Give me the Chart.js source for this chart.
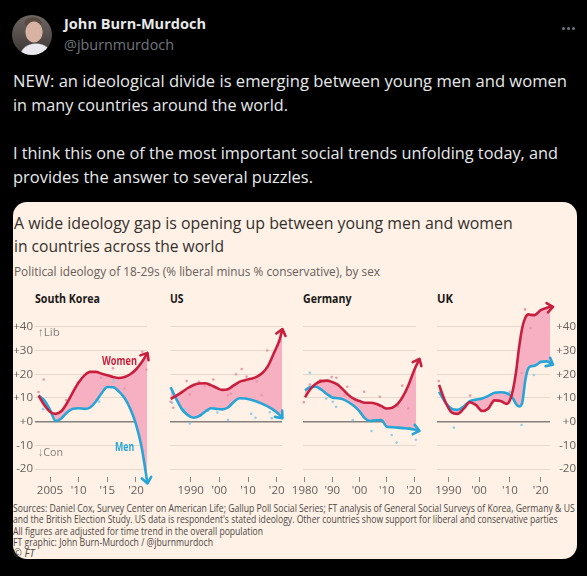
<!DOCTYPE html>
<html><head><meta charset="utf-8">
<script src="https://cdn.jsdelivr.net/npm/chart.js"></script>
<style>
html,body{margin:0;padding:0;background:#000;}
body{width:587px;height:576px;position:relative;overflow:hidden;font-family:'Open Sans',sans-serif;}
.t{position:absolute;white-space:nowrap;line-height:1;transform-origin:0 0;}
.tw{color:#e7e9ea;font-size:17px;left:12.7px;}
.ct{color:#33302e;font-size:17px;left:14px;}
.ft{color:#4d4845;font-size:10.3px;left:13.3px;}
.pt{color:#1a1817;font-size:12.2px;font-weight:700;}
canvas{position:absolute;}
#card{position:absolute;left:12.7px;top:201.7px;width:564px;height:357.6px;border-radius:14px;background:#fff1e5;}
#avatar{position:absolute;left:12px;top:15px;width:40px;height:40px;border-radius:50%;overflow:hidden;
 background:
  radial-gradient(ellipse 9px 11px at 22px 17px,#d8b3a3 0 90%,transparent 100%),
  radial-gradient(ellipse 9px 6px at 21px 8px,#5b4a42 0 90%,transparent 100%),
  radial-gradient(ellipse 16px 12px at 24px 40px,#e9e9ef 0 90%,transparent 100%),
  linear-gradient(#6e6663,#3b3533);}
.dot{position:absolute;width:3px;height:3px;border-radius:50%;background:#71767b;top:26.5px;}
</style></head>
<body>
<div id="avatar"></div>
<div class="t fit" data-w="142" style="left:64.4px;top:16px;font-size:15px;font-weight:700;color:#e7e9ea">John Burn-Murdoch</div>
<div class="t fit" data-w="110" style="left:64.4px;top:36.7px;font-size:15px;color:#71767b">@jburnmurdoch</div>
<div class="dot" style="left:562px"></div><div class="dot" style="left:567px"></div><div class="dot" style="left:572px"></div>

<div class="t tw fit" data-w="554" style="top:72.2px">NEW: an ideological divide is emerging between young men and women</div>
<div class="t tw fit" data-w="275" style="top:95.6px">in many countries around the world.</div>
<div class="t tw fit" data-w="545" style="top:144.2px">I think this one of the most important social trends unfolding today, and</div>
<div class="t tw fit" data-w="300" style="top:167.6px">provides the answer to several puzzles.</div>

<div id="card"></div>
<div class="t ct fit" data-w="498.7" style="top:213.9px">A wide ideology gap is opening up between young men and women</div>
<div class="t ct fit" data-w="210" style="top:236.6px">in countries across the world</div>
<div class="t fit" data-w="366" style="left:14px;top:264.5px;font-size:13px;color:#66605c">Political ideology of 18-29s (% liberal minus % conservative), by sex</div>

<div class="t pt fit" data-w="65" style="left:35px;top:292.9px">South Korea</div>
<div class="t pt fit" data-w="13.5" style="left:170px;top:292.9px">US</div>
<div class="t pt fit" data-w="48.4" style="left:303.3px;top:292.9px">Germany</div>
<div class="t pt fit" data-w="16" style="left:437.3px;top:292.9px">UK</div>

<canvas id="cKR" width="146" height="206" style="left:11px;top:293px"></canvas>
<canvas id="cUS" width="138" height="206" style="left:154px;top:293px"></canvas>
<canvas id="cDE" width="139" height="206" style="left:287px;top:293px"></canvas>
<canvas id="cUK" width="155" height="206" style="left:421px;top:293px"></canvas>

<div class="t fit" data-w="35" style="left:101.7px;top:354.6px;font-size:12px;font-weight:700;color:#c81f3f">Women</div>
<div class="t fit" data-w="19.3" style="left:115px;top:441.3px;font-size:12px;font-weight:700;color:#28a5d7">Men</div>
<div class="t fit" data-w="21.7" style="left:38.3px;top:326.3px;font-size:11.5px;color:#85807b">↑Lib</div>
<div class="t fit" data-w="25" style="left:38.3px;top:445.9px;font-size:11.5px;color:#85807b">↓Con</div>

<div class="t ft fit" data-w="561.7" style="top:502.9px">Sources: Daniel Cox, Survey Center on American Life; Gallup Poll Social Series; FT analysis of General Social Surveys of Korea, Germany &amp; US</div>
<div class="t ft fit" data-w="544.7" style="top:514.2px">and the British Election Study. US data is respondent's stated ideology. Other countries show support for liberal and conservative parties</div>
<div class="t ft fit" data-w="250" style="top:525.9px">All figures are adjusted for time trend in the overall population</div>
<div class="t ft fit" data-w="200" style="top:536.9px">FT graphic: John Burn-Murdoch / @jburnmurdoch</div>
<div class="t ft" style="top:547.6px;font-style:italic">© FT</div>

<script>
// ---------------- data ----------------
const yTicks = [-20, -10, 0, 10, 20, 30, 40];

// South Korea
const krYears = [2003,2004,2005,2006,2007,2008,2009,2010,2011,2012,2013,2014,2015,2016,2017,2018,2019,2020,2021,2022];
const krWomen = [11.0,7.0,4.2,3.3,4.5,8.0,12.5,16.5,19.5,21.0,21.0,20.2,19.6,18.8,18.4,18.8,20.0,22.0,25.0,29.0];
const krMen   = [11.0,9.0,5.0,0.3,1.5,4.0,5.5,5.7,5.4,6.0,8.5,12.0,14.6,14.5,12.8,10.0,5.5,-1.0,-11.0,-26.0];
const krWomenDots = [[2003,12.5],[2003.9,17.8],[2007.8,9.1],[2009.8,16.4],[2013.9,18.5],[2016,22.5],[2018,14],[2021.1,29.5],[2021.8,22]];
const krMenDots = [[2003.8,5.3],[2013.6,8.4],[2016.1,17.2]];
const krTickYears = [2005, 2010, 2015, 2020];
const krTickLabels = ['2005', "'10", "'15", "'20"];

// US
const usYears = [1983,1985,1987,1989,1991,1993,1995,1997,1999,2001,2003,2005,2007,2009,2011,2013,2015,2017,2019,2021,2022];
const usWomen = [9.6,11.0,12.5,14.2,15.5,16.1,16.2,15.4,14.3,13.4,13.7,15.3,16.8,17.5,18.1,18.9,20.5,23.5,28.8,34.5,39.0];
const usMen   = [14.5,9.5,5.2,2.8,1.7,2.4,4.2,5.7,5.4,5.2,6.0,8.3,9.9,9.8,9.3,8.5,7.5,6.4,4.9,2.9,1.5];
const usWomenDots = [[1983,8.4],[1983.9,5.9],[1986.8,12.6],[1988.6,17.1],[1989.7,11.5],[1992.9,16.8],[1994.9,15],[1997.9,17.8],[2003,11.2],[2004,11.9],[2005.8,20],[2007.8,22.2],[2009.5,19],[2013.1,17],[2014.8,11.2],[2016.7,30],[2017.7,25.3],[2021.3,33.7]];
const usMenDots = [[1983.5,8],[1987.9,5.3],[1989.7,-0.7],[1996.1,4.6],[1999.3,3.9],[2003,0.7],[2011.1,3.3],[2012.6,1.7],[2017.6,4],[2018.3,1.5]];
const usTickYears = [1990, 2000, 2010, 2020];
const usTickLabels = ['1990', "'00", "'10", "'20"];

// Germany
const deYears = [1980,1982,1984,1986,1988,1990,1992,1994,1996,1998,2000,2002,2004,2006,2008,2010,2012,2014,2016,2018,2020,2022];
const deWomen = [10.3,13.8,16.0,17.1,17.3,16.7,15.6,13.5,11.2,9.6,8.7,8.0,8.0,7.6,6.6,5.6,5.9,7.5,10.8,15.5,21.5,26.5];
const deMen   = [13.2,14.6,14.7,13.5,11.7,10.2,9.9,9.4,8.2,6.6,4.4,1.4,0.3,0.6,0.7,-2.1,-2.3,-2.5,-2.7,-2.9,-3.3,-3.8];
const deWomenDots = [[1979.6,8.2],[1981.8,15.7],[1985.6,17.6],[1989.8,18.8],[1991.5,18.5],[1994.5,11.2],[1995.5,14.7],[2001.7,12.6],[2007.5,10.5],[2014.1,6.3],[2015.7,15.2],[2017.9,5.6]];
const deMenDots = [[1981.8,20.6],[1987.8,9.8],[1990.2,8.4],[1991.4,6.3],[1997.5,0.7],[2004.4,-3.9],[2011.8,-5.6],[2013.6,-8.8],[2020.7,-7.6]];
const deTickYears = [1980, 1990, 2000, 2010, 2020];
const deTickLabels = ['1980', "'90", "'00", "'10", "'20"];

// UK
const ukYears = [1987,1989,1991,1993,1995,1997,1999,2001,2003,2005,2007,2009,2010,2011,2012,2013,2014,2015,2016,2017,2018,2019,2020,2022,2024];
const ukWomen = [15.5,8.5,4.0,3.3,5.5,8.2,7.0,4.5,5.6,9.0,8.7,7.5,9.0,13.5,21.0,31.5,39.5,43.8,45.2,45.0,44.9,45.8,47.0,48.0,48.4];
const ukMen   = [12.6,8.2,5.5,5.0,6.4,8.7,9.3,9.8,10.9,12.2,12.4,12.0,11.2,9.8,7.5,6.4,8.0,17.5,22.5,23.4,23.6,24.3,25.2,25.4,24.0];
const ukWomenDots = [[1986.9,17.1],[1997.1,11],[2013.8,20.4],[2014.9,47.3],[2016.7,39.4]];
const ukMenDots = [[1991.8,-2.5],[2010,12.6],[2013.8,-1.4],[2015.8,22],[2017.8,19.7]];
const ukTickYears = [1990, 2000, 2010, 2020];
const ukTickLabels = ['1990', "'00", "'10", "'20"];

// ---------------- styles ----------------
const RED = '#c81f3f', BLUE = '#28a5d7', PINK = '#f6b0c1';
const RED_DOT = '#e79aa8', BLUE_DOT = '#93cde6';
const GRID = '#e5d8cc', ZERO = '#85807b', AXIS_TEXT = '#66605c';

Chart.defaults.font.family = "'Open Sans', sans-serif";
Chart.defaults.font.size = 11.5;
Chart.defaults.color = AXIS_TEXT;

const arrowPlugin = {
  id: 'arrowHeads',
  afterDatasetsDraw(chart) {
    const ctx = chart.ctx;
    chart.data.datasets.forEach((ds, i) => {
      if (!ds.arrow) return;
      const pts = chart.getDatasetMeta(i).data;
      const p = pts[pts.length - 1];
      let dx = p.x - p.cp1x, dy = p.y - p.cp1y;
      if (!isFinite(dx) || !isFinite(dy) || Math.hypot(dx, dy) < 0.5) {
        const q = pts[pts.length - 2]; dx = p.x - q.x; dy = p.y - q.y;
      }
      const a = Math.atan2(dy, dx), len = 7.5, spread = Math.PI / 4.6;
      ctx.save();
      ctx.strokeStyle = ds.borderColor; ctx.lineWidth = ds.borderWidth;
      ctx.lineCap = 'round'; ctx.lineJoin = 'round';
      ctx.beginPath();
      ctx.moveTo(p.x - len * Math.cos(a - spread), p.y - len * Math.sin(a - spread));
      ctx.lineTo(p.x, p.y);
      ctx.lineTo(p.x - len * Math.cos(a + spread), p.y - len * Math.sin(a + spread));
      ctx.stroke();
      ctx.restore();
    });
  }
};

function makePanel(id, o) {
  const toXY = (ys, vs) => ys.map((y, i) => ({x: y, y: vs[i]}));
  const dotXY = d => d.map(p => ({x: p[0], y: p[1]}));
  const line = (label, vals, color, fill) => ({
    label, data: toXY(o.years, vals), borderColor: color, backgroundColor: PINK,
    borderWidth: 2.6, pointRadius: 0, cubicInterpolationMode: 'monotone',
    fill, clip: false, order: 1, arrow: true
  });
  const dots = (d, color) => ({
    data: dotXY(d), showLine: false, pointRadius: 1.3, pointBorderWidth: 0,
    pointBackgroundColor: color, backgroundColor: color, fill: false, clip: false, order: 2
  });
  return new Chart(document.getElementById(id), {
    type: 'line',
    data: { datasets: [
      line('Women', o.women, RED, '+1'),
      line('Men', o.men, BLUE, false),
      dots(o.womenDots, RED_DOT),
      dots(o.menDots, BLUE_DOT)
    ]},
    options: {
      responsive: false, animation: false, events: [],
      layout: { padding: { top: 10, bottom: 0, left: o.padL, right: o.padR } },
      plugins: { legend: {display: false}, tooltip: {enabled: false}, filler: {drawTime: 'beforeDatasetsDraw'} },
      scales: {
        x: {
          type: 'linear', min: o.xMin, max: o.xMax,
          afterBuildTicks: s => { s.ticks = o.tickYears.map(v => ({value: v})); },
          afterFit: s => { s.height = 22; s.paddingLeft = 0; s.paddingRight = 0; },
          ticks: { autoSkip: false, maxRotation: 0, padding: 2,
                   callback: v => { const k = o.tickYears.indexOf(v); return k < 0 ? '' : o.tickLabels[k]; } },
          grid: { drawOnChartArea: false, drawTicks: true, tickLength: 5, tickColor: '#8b8580', tickWidth: 1 },
          border: { display: false }
        },
        y: {
          type: 'linear', min: -23.28, max: 50, position: o.yPos,
          afterBuildTicks: s => { s.ticks = yTicks.map(v => ({value: v})); },
          afterFit: s => { s.width = o.yWidth; s.paddingTop = 0; s.paddingBottom = 0; },
          ticks: { display: o.yLabels, padding: 2, crossAlign: o.yPos === 'right' ? 'far' : 'near',
                   callback: v => (v >= 0 ? '+' : '') + v },
          grid: { drawTicks: false,
                  color: c => (c.tick && c.tick.value === 0) ? ZERO : GRID,
                  lineWidth: c => (c.tick && c.tick.value === 0) ? 1.5 : 1 },
          border: { display: false }
        }
      }
    },
    plugins: [arrowPlugin]
  });
}

makePanel('cKR', { years: krYears, women: krWomen, men: krMen, womenDots: krWomenDots, menDots: krMenDots,
  tickYears: krTickYears, tickLabels: krTickLabels, xMin: 2002.38, xMax: 2021.92,
  padL: 0, padR: 10, yPos: 'left', yWidth: 24, yLabels: true });
makePanel('cUS', { years: usYears, women: usWomen, men: usMen, womenDots: usWomenDots, menDots: usMenDots,
  tickYears: usTickYears, tickLabels: usTickLabels, xMin: 1982.78, xMax: 2021.85,
  padL: 16, padR: 10, yPos: 'left', yWidth: 0, yLabels: false });
makePanel('cDE', { years: deYears, women: deWomen, men: deMen, womenDots: deWomenDots, menDots: deMenDots,
  tickYears: deTickYears, tickLabels: deTickLabels, xMin: 1979.27, xMax: 2020.73,
  padL: 16, padR: 10, yPos: 'left', yWidth: 0, yLabels: false });
makePanel('cUK', { years: ukYears, women: ukWomen, men: ukMen, womenDots: ukWomenDots, menDots: ukMenDots,
  tickYears: ukTickYears, tickLabels: ukTickLabels, xMin: 1986.33, xMax: 2023.02,
  padL: 16, padR: 0, yPos: 'right', yWidth: 26, yLabels: true });

// fit text widths to the reference layout
function fitTexts() {
  document.querySelectorAll('.fit').forEach(el => {
    el.style.transform = 'none';
    const w = el.getBoundingClientRect().width;
    const target = parseFloat(el.dataset.w);
    if (w > 0) el.style.transform = 'scaleX(' + (target / w) + ')';
  });
}
fitTexts();
if (document.fonts && document.fonts.ready) document.fonts.ready.then(fitTexts);
</script>
</body></html>
